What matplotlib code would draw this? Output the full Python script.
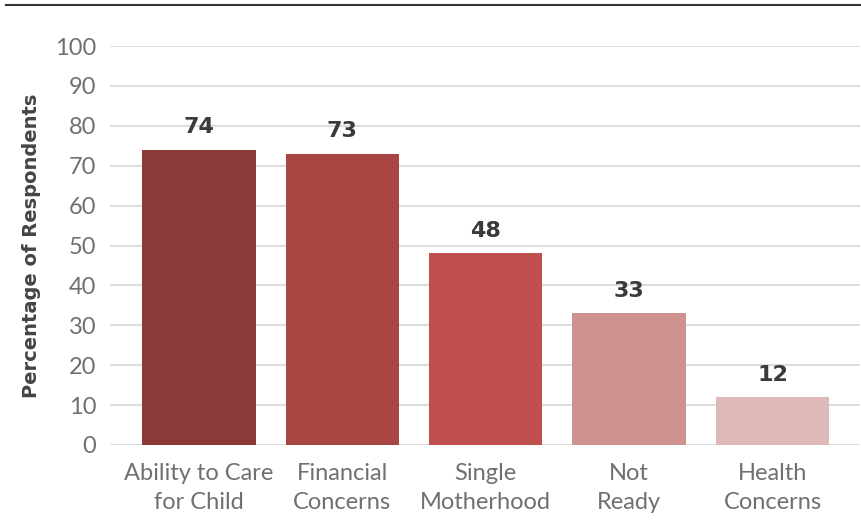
import matplotlib
matplotlib.use("Agg")
import matplotlib.pyplot as plt
from matplotlib.lines import Line2D

# data
categories = ["Ability to Care\nfor Child", "Financial\nConcerns", "Single\nMotherhood",
              "Not\nReady", "Health\nConcerns"]
values = [74, 73, 48, 33, 12]
colors = ["#8C3A38", "#A94543", "#C0504D", "#CF9290", "#DFB9B8"]
yticks = list(range(0, 101, 10))

plt.rcParams["font.family"] = ["Lato", "DejaVu Sans"]

fig = plt.figure(figsize=(8.62, 5.29), dpi=100)
ax = fig.add_axes([0.1276, 0.1588, 0.870, 0.7542])

x = list(range(len(categories)))
bars = ax.bar(x, values, color=colors, width=0.79, zorder=3)

for bar, val in zip(bars, values):
    ax.annotate(str(val), (bar.get_x() + bar.get_width() / 2, bar.get_height()),
                xytext=(0, 9), textcoords="offset points", ha="center", va="bottom",
                fontsize=16, fontweight="bold", color="#3a3a3a", family="DejaVu Sans")

ax.set_xlim(-0.62, 4.61)
ax.set_ylim(0, 100)
ax.set_yticks(yticks)
ax.set_xticks(x)
ax.set_xticklabels(categories, fontsize=17, color="#707070", linespacing=1.45)
ax.tick_params(axis="y", labelsize=17, colors="#707070", length=0, pad=10)
ax.tick_params(axis="x", length=0, pad=13)

ax.grid(axis="y", color="#DDDDDD", linewidth=1.5, zorder=0)
for s in ax.spines.values():
    s.set_visible(False)

ax.set_ylabel("Percentage of Respondents", fontsize=14, fontweight="bold",
              color="#444444", labelpad=10, family="DejaVu Sans")

# top rule
fig.add_artist(Line2D([0.007, 1.0], [0.991, 0.991], color="#333333", linewidth=1.5))

plt.savefig("out.png", dpi=100)
plt.close()
